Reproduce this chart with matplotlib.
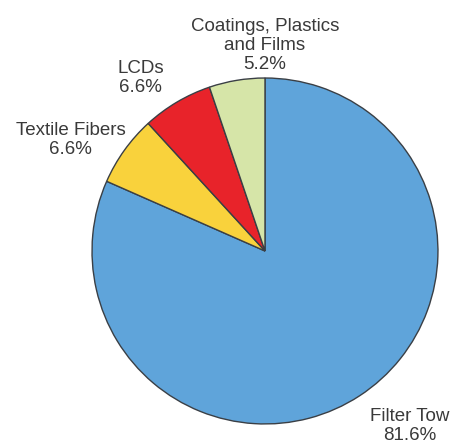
import numpy as np
import matplotlib.pyplot as plt

labels = ['Filter Tow', 'Textile Fibers', 'LCDs', 'Coatings, Plastics\nand Films']
values = [81.6, 6.6, 6.6, 5.2]
colors = ['#5FA4DA', '#F9D23C', '#E8232A', '#D6E5A8']

# label anchors (data units, pie radius = 1)
label_xy = [(0.835, -1.01), (-1.125, 0.64), (-0.72, 1.0), (0.0, 1.19)]

fig = plt.figure(figsize=(4.53, 4.48), dpi=100)
ax = fig.add_axes([0, 0, 1, 1])
ax.pie(values, colors=colors, startangle=90, counterclock=False,
       wedgeprops=dict(edgecolor='#3a3f45', linewidth=1.0))

for lab, v, (x, y) in zip(labels, values, label_xy):
    ax.text(x, y, '%s\n%.1f%%' % (lab, v), ha='center', va='center',
            fontsize=13.5, family='Liberation Sans', color='#3a3a3a', linespacing=1.15)

ax.set_xlim(-1.532, 1.087)
ax.set_ylim(-1.139, 1.451)
ax.set_aspect('equal')
ax.axis('off')
fig.savefig('out.png', dpi=100)
